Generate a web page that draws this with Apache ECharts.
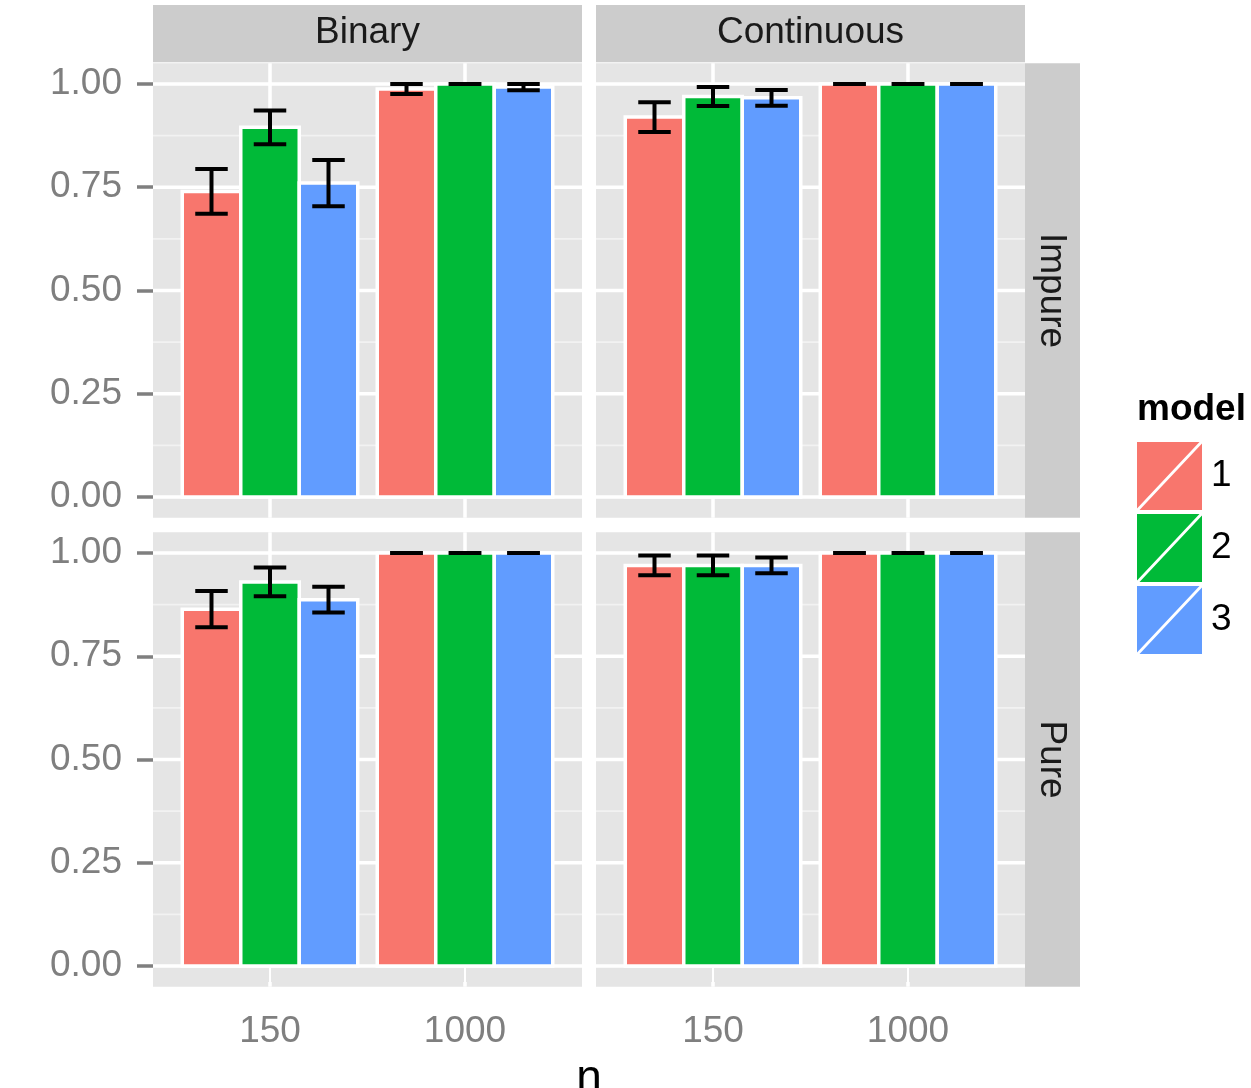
<!DOCTYPE html>
<html><head><meta charset="utf-8">
<script src="https://cdn.jsdelivr.net/npm/echarts@6/dist/echarts.min.js"></script>
<style>html,body{margin:0;padding:0;background:#fff}#c{width:1251px;height:1088px}</style>
</head><body><div id="c"></div>
<script>
// ---------- data ----------
const nLabels = ['150', '1000'];
const models = ['1', '2', '3'];
const colTypes = ['Binary', 'Continuous'];
const rowTypes = ['Impure', 'Pure'];
const yTicks = [0, 0.25, 0.5, 0.75, 1];
const yMinor = [0.125, 0.375, 0.625, 0.875];
// per model: [n=150, n=1000]
const binaryImpureMean = [[0.740, 0.988], [0.895, 1.000], [0.760, 0.9925]];
const binaryImpureErr  = [[0.054, 0.012], [0.041, 0.000], [0.056, 0.0075]];
const contImpureMean   = [[0.920, 1.000], [0.970, 1.000], [0.9665, 1.000]];
const contImpureErr    = [[0.036, 0.000], [0.023, 0.000], [0.019, 0.000]];
const binaryPureMean   = [[0.864, 1.000], [0.930, 1.000], [0.887, 1.000]];
const binaryPureErr    = [[0.044, 0.000], [0.035, 0.000], [0.031, 0.000]];
const contPureMean     = [[0.970, 1.000], [0.970, 1.000], [0.970, 1.000]];
const contPureErr      = [[0.024, 0.000], [0.024, 0.000], [0.019, 0.000]];
const modelColors = ['#F8766D', '#00BA38', '#619CFF'];

// ---------- layout ----------
const panels = [
  { mean: binaryImpureMean, err: binaryImpureErr, col: 0, row: 0 },
  { mean: contImpureMean,   err: contImpureErr,   col: 1, row: 0 },
  { mean: binaryPureMean,   err: binaryPureErr,   col: 0, row: 1 },
  { mean: contPureMean,     err: contPureErr,     col: 1, row: 1 }
];
const colLeft = [153, 596], panelW = 429;
const rowTop = [63.35, 532.35], panelH = 454.3;
const stripTop = 5, stripRightX = 1025, stripRightW = 55;
const DODGE = 0.3, BARW = 0.3, CAPW = 0.5 / 3;
const tickFont = '"Liberation Sans", Arial, sans-serif';
const mainFont = '"Liberation Sans", Arial, sans-serif';

const grids = [], xAxes = [], yAxes = [], series = [];
panels.forEach((p, pi) => {
  grids.push({ left: colLeft[p.col], top: rowTop[p.row], width: panelW, height: panelH,
    show: true, backgroundColor: '#E5E5E5', borderWidth: 0, containLabel: false });
  const bottom = p.row === 1, left = p.col === 0;
  xAxes.push({ type: 'value', gridIndex: pi, min: 0.4, max: 2.6,
    axisLine: { show: false }, splitLine: { show: false },
    axisTick: { show: bottom, customValues: [1, 2], length: 16, lineStyle: { color: '#7F7F7F', width: 3.5 } },
    axisLabel: { show: bottom, customValues: [1, 2], margin: 27, fontSize: 37, fontFamily: tickFont, color: '#7F7F7F',
      formatter: v => nLabels[Math.round(v) - 1] } });
  yAxes.push({ type: 'value', gridIndex: pi, min: -0.05, max: 1.05,
    axisLine: { show: false }, splitLine: { show: false },
    axisTick: { show: left, customValues: yTicks, length: 16, lineStyle: { color: '#7F7F7F', width: 3.5 } },
    axisLabel: { show: left, customValues: yTicks, margin: 31, fontSize: 37, fontFamily: tickFont, color: '#7F7F7F',
      padding: [4, 0, 0, 0], formatter: v => v.toFixed(2) } });
  // minor horizontal grid lines
  series.push({ type: 'custom', xAxisIndex: pi, yAxisIndex: pi, z: 1, silent: true,
    data: yMinor.map(t => [1, t]),
    renderItem: (params, api) => {
      const cs = params.coordSys; const y = api.coord([1, api.value(1)])[1];
      return { type: 'line', shape: { x1: cs.x, y1: y, x2: cs.x + cs.width, y2: y }, style: { stroke: '#F2F2F2', lineWidth: 1.8 } };
    } });
  // major horizontal grid lines
  series.push({ type: 'custom', xAxisIndex: pi, yAxisIndex: pi, z: 1, silent: true,
    data: yTicks.map(t => [1, t]),
    renderItem: (params, api) => {
      const cs = params.coordSys; const y = api.coord([1, api.value(1)])[1];
      return { type: 'line', shape: { x1: cs.x, y1: y, x2: cs.x + cs.width, y2: y }, style: { stroke: '#FFFFFF', lineWidth: 3.5 } };
    } });
  // major vertical grid lines
  series.push({ type: 'custom', xAxisIndex: pi, yAxisIndex: pi, z: 1, silent: true,
    data: nLabels.map((_, i) => [i + 1, 0]),
    renderItem: (params, api) => {
      const cs = params.coordSys; const x = api.coord([api.value(0), 0])[0];
      return { type: 'line', shape: { x1: x, y1: cs.y, x2: x, y2: cs.y + cs.height }, style: { stroke: '#FFFFFF', lineWidth: 3.5 } };
    } });
  // bars
  models.forEach((m, mi) => {
    series.push({ type: 'custom', name: m, xAxisIndex: pi, yAxisIndex: pi, z: 2,
      itemStyle: { color: modelColors[mi] },
      data: p.mean[mi].map((v, ni) => [ni + 1, v]),
      renderItem: (params, api) => {
        const xc = api.value(0) + (mi - 1) * DODGE, v = api.value(1);
        const a = api.coord([xc - BARW / 2, v]), b = api.coord([xc + BARW / 2, 0]);
        return { type: 'rect', shape: { x: a[0], y: a[1], width: b[0] - a[0], height: b[1] - a[1] },
          style: { fill: modelColors[mi], stroke: '#FFFFFF', lineWidth: 3.5 } };
      } });
  });
  // error bars
  const ed = [];
  models.forEach((m, mi) => p.mean[mi].forEach((v, ni) => ed.push([ni + 1, v, p.err[mi][ni], mi])));
  series.push({ type: 'custom', xAxisIndex: pi, yAxisIndex: pi, z: 3, silent: true, data: ed,
    renderItem: (params, api) => {
      const xc = api.value(0) + (api.value(3) - 1) * DODGE, v = api.value(1), e = api.value(2);
      const top = api.coord([xc, v + e]), bot = api.coord([xc, v - e]);
      const l = api.coord([xc - CAPW / 2, v])[0], r = api.coord([xc + CAPW / 2, v])[0];
      const st = { stroke: '#000000', lineWidth: 4 };
      return { type: 'group', children: [
        { type: 'line', shape: { x1: top[0], y1: top[1], x2: bot[0], y2: bot[1] }, style: st },
        { type: 'line', shape: { x1: l, y1: top[1], x2: r, y2: top[1] }, style: st },
        { type: 'line', shape: { x1: l, y1: bot[1], x2: r, y2: bot[1] }, style: st }
      ] };
    } });
});

// strips and text
const graphic = [];
colTypes.forEach((c, ci) => {
  graphic.push({ type: 'rect', left: colLeft[ci], top: stripTop, shape: { width: panelW, height: rowTop[0] - stripTop - 1 }, style: { fill: '#CCCCCC' } });
  graphic.push({ type: 'text', x: colLeft[ci] + panelW / 2, y: 33, style: { text: c, fontSize: 37, fontFamily: mainFont, fill: '#1A1A1A', align: 'center', verticalAlign: 'middle' } });
});
rowTypes.forEach((r, ri) => {
  graphic.push({ type: 'rect', left: stripRightX, top: rowTop[ri], shape: { width: stripRightW, height: panelH }, style: { fill: '#CCCCCC' } });
  graphic.push({ type: 'text', x: stripRightX + stripRightW / 2 - 1, y: rowTop[ri] + panelH / 2, rotation: -Math.PI / 2,
    style: { text: r, fontSize: 37, fontFamily: mainFont, fill: '#1A1A1A', align: 'center', verticalAlign: 'middle' } });
});
graphic.push({ type: 'text', x: 1137, y: 410, style: { text: 'model', fontSize: 37, fontWeight: 'bold', fontFamily: mainFont, fill: '#000', align: 'left', verticalAlign: 'middle' } });
graphic.push({ type: 'text', x: 589, y: 1079, style: { text: 'n', fontSize: 46, fontFamily: mainFont, fill: '#000', align: 'center', verticalAlign: 'middle' } });

const chart = echarts.init(document.getElementById('c'), null, { renderer: 'canvas' });
chart.setOption({
  animation: false,
  backgroundColor: '#FFFFFF',
  grid: grids, xAxis: xAxes, yAxis: yAxes, series: series, graphic: graphic,
  legend: { data: models, orient: 'vertical', left: 1137, top: 442, padding: 0, itemGap: 4,
    itemWidth: 65, itemHeight: 68, selectedMode: false,
    icon: 'path://M0,0L62.5,0L0,66.5Z M2.5,68L65,68L65,1.5Z',
    textStyle: { fontSize: 37, fontFamily: mainFont, color: '#000', padding: [0, 0, 0, 4] } }
});
</script></body></html>
